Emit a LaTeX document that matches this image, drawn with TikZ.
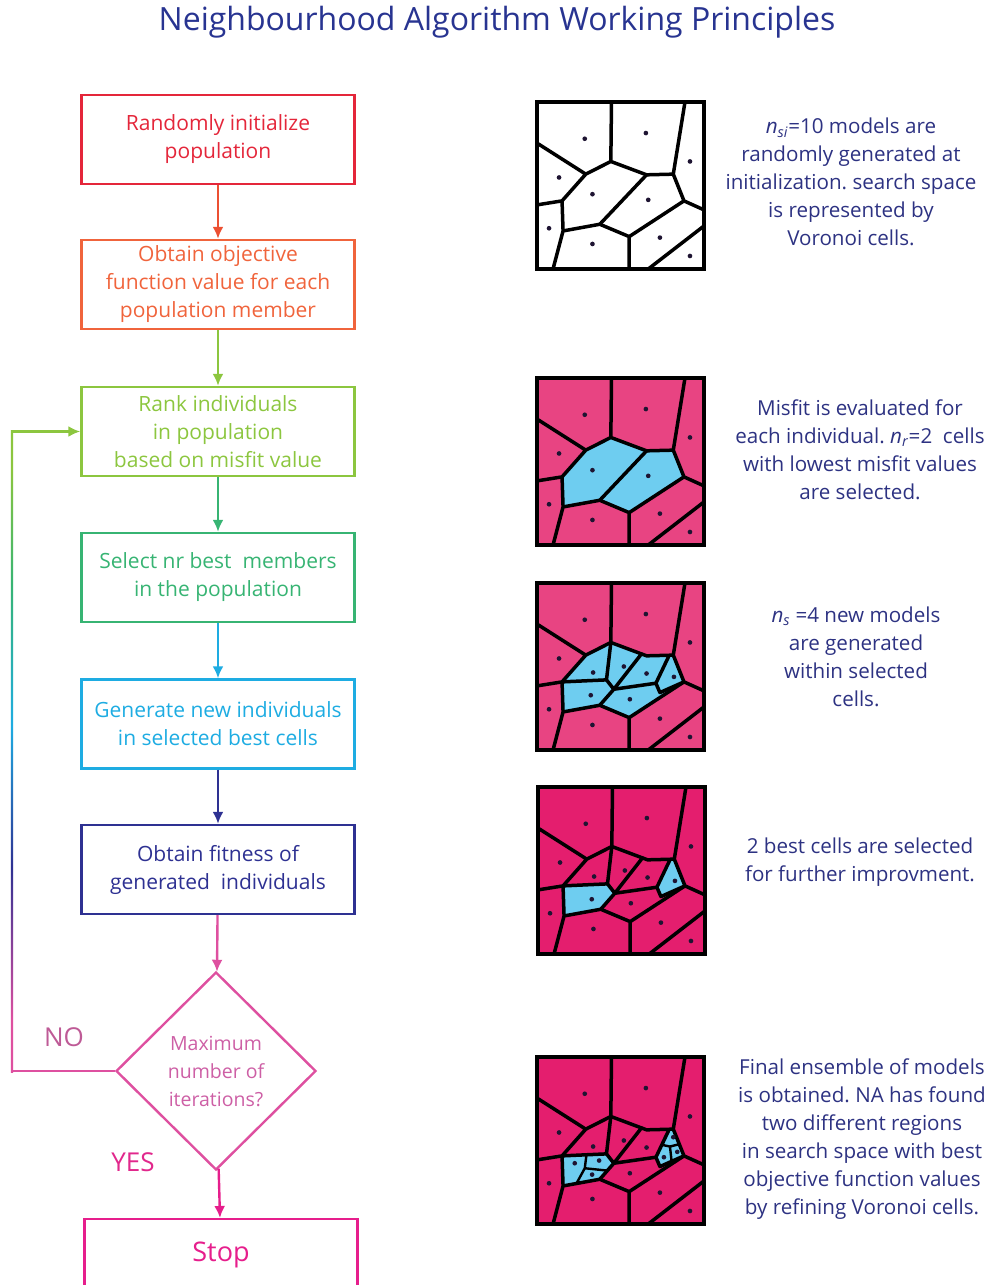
\documentclass[tikz,border=0pt]{standalone}
\usepackage{fontspec}
\setmainfont{Open Sans}
\frenchspacing
\usetikzlibrary{shapes.geometric,arrows.meta}
\definecolor{cred}{RGB}{228,38,58}
\definecolor{corange}{RGB}{240,100,60}
\definecolor{corarrow}{RGB}{236,80,50}
\definecolor{cgreen}{RGB}{140,198,63}
\definecolor{cteal}{RGB}{55,180,115}
\definecolor{ccyan}{RGB}{30,172,226}
\definecolor{cnavy}{RGB}{46,49,146}
\definecolor{cdia}{RGB}{222,80,160}
\definecolor{cdtext}{RGB}{205,95,165}
\definecolor{cmag}{RGB}{230,30,140}
\definecolor{ctitle}{RGB}{40,52,145}
\definecolor{ctxt}{RGB}{45,50,130}
\definecolor{cno}{RGB}{190,90,150}
\definecolor{cyes}{RGB}{225,40,140}
\definecolor{cpinkA}{RGB}{232,68,130}
\definecolor{cpinkB}{RGB}{228,30,110}
\definecolor{ccy}{RGB}{110,205,240}
\definecolor{cdot}{RGB}{30,20,50}
\pgfdeclareverticalshading{loopshade}{100bp}{color(0bp)=(cdia); color(29bp)=(cdia); color(41bp)=(cnavy); color(52bp)=(ccyan); color(63bp)=(cteal); color(72bp)=(cgreen); color(100bp)=(cgreen)}
\newcommand\NAcoords{%
 \coordinate (vTL) at (22,22); \coordinate (vBR) at (522,522);
 \coordinate (vt1) at (245,22); \coordinate (vt2) at (465,22);
 \coordinate (vl1) at (22,145); \coordinate (vl2) at (22,330);
 \coordinate (vb1) at (70,522); \coordinate (vb2) at (298,522); \coordinate (vb3) at (355,522);
 \coordinate (vr1) at (522,345); \coordinate (vr2) at (522,393);
 \coordinate (vA) at (243,200); \coordinate (vB) at (430,238); \coordinate (vD) at (350,240);
 \coordinate (vE) at (168,238); \coordinate (vF) at (97,318); \coordinate (vG) at (100,408);
 \coordinate (vH) at (210,388); \coordinate (vI) at (298,425); \coordinate (vJ) at (462,318);
 \coordinate (vP1) at (230,312); \coordinate (vP2) at (252,340); \coordinate (vP3) at (378,322);
 \coordinate (vP4) at (390,350); \coordinate (vQ1) at (335,234); \coordinate (vQ2) at (418,238);
 \coordinate (vLc) at (165,355); \coordinate (vL1) at (170,315); \coordinate (vL2) at (232,362); \coordinate (vL3) at (140,401);
 \coordinate (vRc) at (420,290); \coordinate (vR1) at (396,285); \coordinate (vR2) at (448,283); \coordinate (vR3) at (425,334);
}
\newcommand\NAedges{\draw[vedge] (vt1)--(vA) (vt2)--(vB) (vA)--(vD)--(vB) (vl1)--(vE)--(vA) (vE)--(vF)--(vl2) (vF)--(vG)--(vb1) (vG)--(vH)--(vI)--(vb2) (vI)--(vJ)--(vB) (vJ)--(vr1) (vb3)--(vr2);}
\newcommand\NAhd{\draw[vedge] (vH)--(vD);}
\newcommand\NAsub{\draw[vedge] (vA)--(vP1) (vF)--(vP1)--(vP2)--(vQ1) (vP2)--(vH) (vP2)--(vP3)--(vQ2) (vP3)--(vP4)--(vJ);}
\newcommand\NAfine{\draw[vedge,line width=2.4pt] (vLc)--(vL1) (vLc)--(vL2) (vLc)--(vL3) (vRc)--(vR1) (vRc)--(vR2) (vRc)--(vR3);}
\newcommand\NAframe{\draw[vfr] (vTL) rectangle (vBR);}
\newcommand\NAdotsbase{\fill[cdot] (165,132) circle (7) (348,115) circle (7) (480,200) circle (7) (88,248) circle (7) (58,400) circle (7) (188,447) circle (7) (390,428) circle (7) (480,483) circle (7);}
\newcommand\NAunion{(vE)--(vA)--(vD)--(vB)--(vJ)--(vI)--(vH)--(vG)--(vF)--cycle}
\begin{document}
\begin{tikzpicture}[x=1pt,y=-1pt,
  box/.style={draw, line width=2.4pt, minimum width=273pt, minimum height=89pt, align=center, inner sep=0pt, font=\fontsize{21}{28}\selectfont},
  arr/.style={line width=2.4pt, -{Latex[length=12pt,width=11pt]}},
  rtext/.style={text=ctxt, align=center, inner sep=0pt, font=\fontsize{20.6}{28}\selectfont},
  vedge/.style={line width=3.5pt, line join=round, line cap=round, black},
  vfr/.style={line width=3.8pt, line join=miter, black}]
\useasboundingbox (0,0) rectangle (999,1285);
\clip (0,0) rectangle (999,1285);
% title
\node[text=ctitle, font=\fontsize{32}{36}\selectfont] (title) at (497,22) {Neighbourhood Algorithm Working Principles};
% flowchart
\node[box, draw=cred, text=cred] (n1) at (218,139.5) {Randomly initialize\\population};
\node[box, draw=corange, text=corange] (n2) at (218,284.5) {Obtain objective\\function value for each\\population member};
\node[box, draw=cgreen, text=cgreen] (n3) at (218,431.5) {Rank individuals\\in population\\based on misfit value};
\node[box, draw=cteal, text=cteal] (n4) at (218,577.5) {Select nr best\ \ members\\in the population};
\node[box, draw=ccyan, text=ccyan] (n5) at (218,724) {Generate new individuals\\in selected best cells};
\node[box, draw=cnavy, text=cnavy] (n6) at (218,869.5) {Obtain fitness of\\generated\ \ individuals};
\node[diamond, draw=cdia, line width=2.4pt, text=cdtext, minimum width=200pt, minimum height=198pt, inner sep=0pt, align=center, font=\fontsize{19.5}{28}\selectfont] (dec) at (216,1071) {Maximum\\number of\\iterations?};
\node[box, draw=cmag, text=cmag, minimum height=72pt, anchor=north, font=\fontsize{27}{30}\selectfont] (stop) at (221,1218) {Stop};
\draw[arr, corarrow] (n1) -- (n2);
\draw[arr, cgreen] (n2) -- (n3);
\draw[arr, cteal] (n3) -- (n4);
\draw[arr, ccyan] (n4) -- (n5);
\draw[arr, cnavy] (n5) -- (n6);
\draw[arr, cdia] (n6) -- (dec);
\draw[arr, cmag] (dec) -- (stop);
% loop back
\coordinate (lb) at (12,1071);
\coordinate (lt) at (12,431.5);
\draw[line width=2.4pt, cdia] (dec.west) -- (lb);
\fill[shading=loopshade] (10.8,430.3) rectangle (13.2,1072.2);
\draw[arr, cgreen] (lt) -- (n3.west);
\node[text=cno, font=\fontsize{26}{30}\selectfont] (no) at (64,1037) {NO};
\node[text=cyes, font=\fontsize{26}{30}\selectfont] (yes) at (133,1162) {YES};
% right texts
\node[rtext] (t1) at (851,182) {\textit{n}\textsubscript{\textit{si}}=10 models are\\randomly generated at\\initialization. search space\\is represented by\\Voronoi cells.};
\node[rtext] (t2) at (860,450) {Misfit is evaluated for\\each individual. \textit{n}\textsubscript{\textit{r}}=2\ \ cells\\with lowest misfit values\\are selected.};
\node[rtext] (t3) at (856,657) {\textit{n}\textsubscript{\textit{s}} =4 new models\\are generated\\within selected\\cells.};
\node[rtext] (t4) at (860,862) {2 best cells are selected\\for further improvment.};
\node[rtext] (t5) at (862,1139) {Final ensemble of models\\is obtained. NA has found\\two different regions\\in search space with best\\objective function values\\by refining Voronoi cells.};
% panel 1
\begin{scope}[shift={(537,102)}, scale=0.334, shift={(-22,-22)}]
 \NAcoords
 \fill[white] (vTL) rectangle (vBR);
 \NAedges \NAhd \NAframe
 \NAdotsbase
 \fill[cdot] (188,298) circle (7) (355,315) circle (7);
\end{scope}
% panel 2
\begin{scope}[shift={(537,378)}, scale=0.334, shift={(-22,-22)}]
 \NAcoords
 \fill[cpinkA] (vTL) rectangle (vBR);
 \fill[ccy] \NAunion;
 \NAedges \NAhd \NAframe
 \NAdotsbase
 \fill[cdot] (188,298) circle (7) (355,315) circle (7);
\end{scope}
% panel 3
\begin{scope}[shift={(537,583)}, scale=0.334, shift={(-22,-22)}]
 \NAcoords
 \fill[cpinkA] (vTL) rectangle (vBR);
 \fill[ccy] \NAunion;
 \NAedges \NAsub \NAframe
 \NAdotsbase
 \fill[cdot] (190,290) circle (7) (282,272) circle (7) (350,293) circle (7) (432,303) circle (7) (183,358) circle (7) (300,370) circle (7);
\end{scope}
% panel 4
\begin{scope}[shift={(538,787)}, scale=0.334, shift={(-22,-22)}]
 \NAcoords
 \fill[cpinkB] (vTL) rectangle (vBR);
 \fill[ccy] (vF)--(vP1)--(vP2)--(vH)--(vG)--cycle;
 \fill[ccy] (vQ2)--(vB)--(vJ)--(vP4)--(vP3)--cycle;
 \NAedges \NAsub \NAframe
 \NAdotsbase
 \fill[cdot] (190,290) circle (7) (282,272) circle (7) (350,293) circle (7) (432,303) circle (7) (183,358) circle (7) (300,370) circle (7);
\end{scope}
% panel 5
\begin{scope}[shift={(537,1057)}, scale=0.334, shift={(-22,-22)}]
 \NAcoords
 \fill[cpinkB] (vTL) rectangle (vBR);
 \fill[ccy] (vF)--(vP1)--(vP2)--(vH)--(vG)--cycle;
 \fill[ccy] (vQ2)--(vB)--(vJ)--(vP4)--(vP3)--cycle;
 \NAedges \NAsub \NAfine \NAframe
 \NAdotsbase
 \fill[cdot] (190,290) circle (7) (282,272) circle (7) (350,293) circle (7) (300,370) circle (7);
 \fill[cdot] (135,340) circle (7) (208,332) circle (7) (187,374) circle (7) (430,262) circle (7) (402,322) circle (7) (442,306) circle (7);
\end{scope}
\end{tikzpicture}
\end{document}
